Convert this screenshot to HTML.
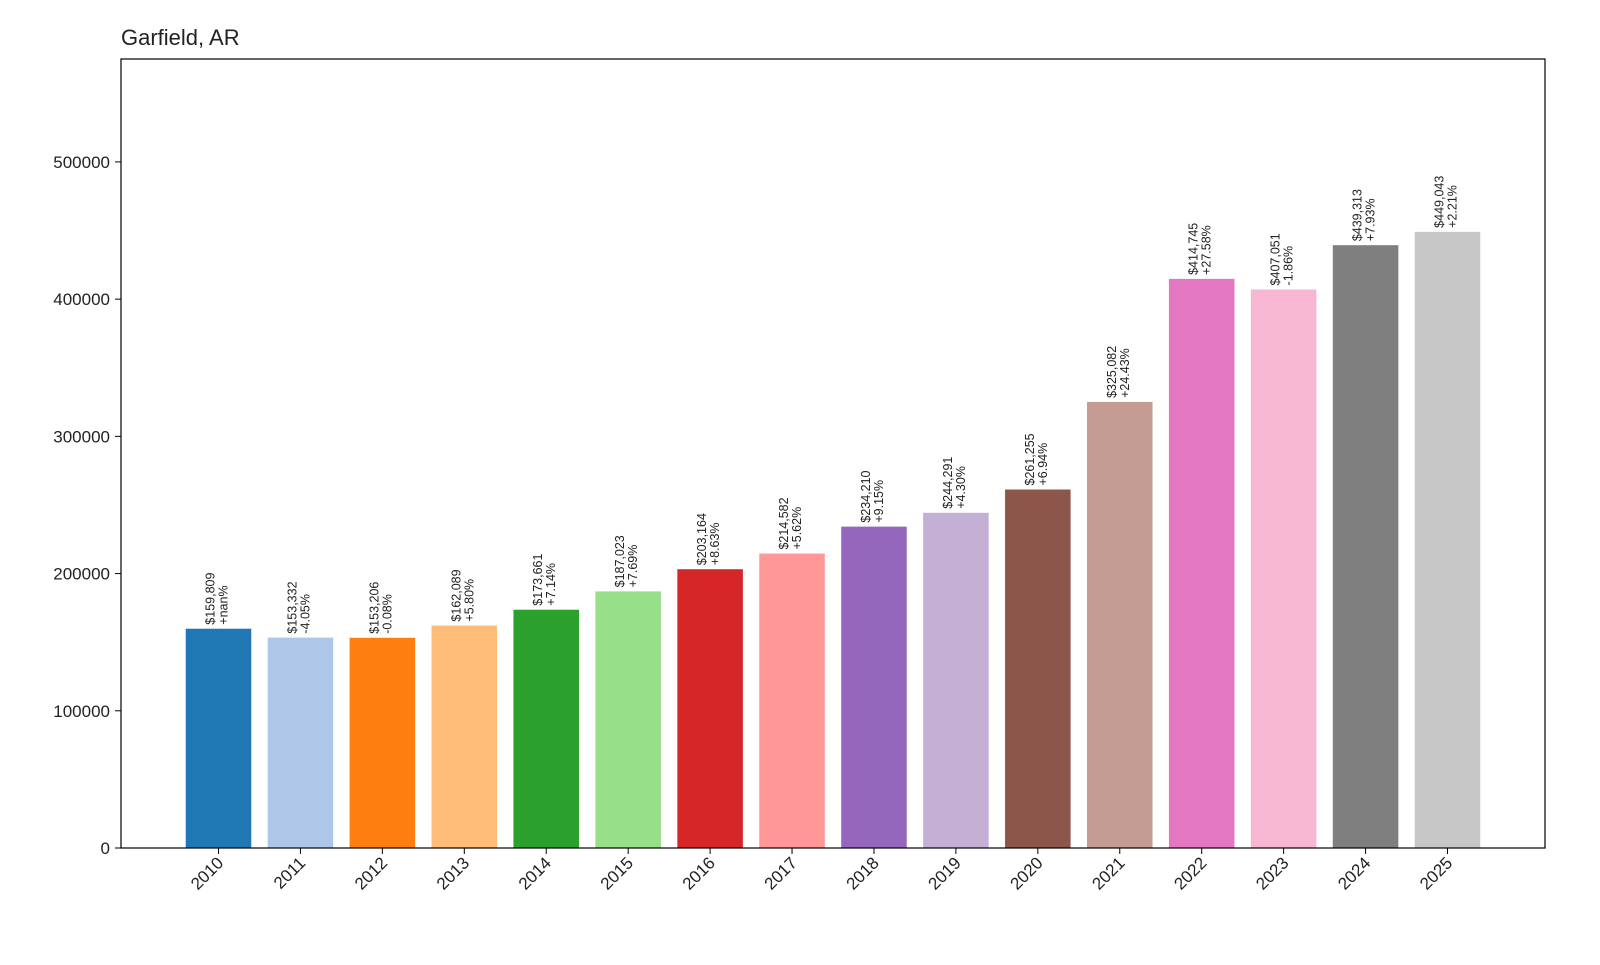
<!DOCTYPE html>
<html><head><meta charset="utf-8"><style>
body{margin:0;background:#fff;font-family:"Liberation Sans","DejaVu Sans",sans-serif;}
</style></head><body>
<svg id="chart" width="1600" height="960" xmlns="http://www.w3.org/2000/svg" font-family="Liberation Sans, DejaVu Sans, sans-serif">
<text x="121" y="45" font-size="22" fill="#222">Garfield, AR</text>
<g id="bars"></g>
<g id="yaxis"></g>
<g id="xaxis"></g>
<rect x="121" y="59" width="1424" height="789" fill="none" stroke="#000" stroke-width="1.2"/>
</svg>
<script>
const years=["2010","2011","2012","2013","2014","2015","2016","2017","2018","2019","2020","2021","2022","2023","2024","2025"];
const values=[159809,153332,153206,162089,173661,187023,203164,214582,234210,244291,261255,325082,414745,407051,439313,449043];
const changes=["+nan%","-4.05%","-0.08%","+5.80%","+7.14%","+7.69%","+8.63%","+5.62%","+9.15%","+4.30%","+6.94%","+24.43%","+27.58%","-1.86%","+7.93%","+2.21%"];
const yTicks=[0,100000,200000,300000,400000,500000];
const colors=["#1f77b4","#aec7e8","#ff7f0e","#ffbb78","#2ca02c","#98df8a","#d62728","#ff9896","#9467bd","#c5b0d5","#8c564b","#c49c94","#e377c2","#f7b6d2","#7f7f7f","#c7c7c7"];
const NS="http://www.w3.org/2000/svg";
const L=121,R=1545,T=59,B=848,yMax=575000;
const xMin=-1.19,xMax=16.19;
const x=i=>L+(i-xMin)/(xMax-xMin)*(R-L);
const y=v=>B-v/yMax*(B-T);
const bw=0.8*(R-L)/(xMax-xMin);
function mk(tag,attrs,parent){const e=document.createElementNS(NS,tag);for(const k in attrs)e.setAttribute(k,attrs[k]);parent.appendChild(e);return e;}
const gb=document.getElementById('bars'),gy=document.getElementById('yaxis'),gx=document.getElementById('xaxis');
values.forEach((v,i)=>{
  const r=mk('rect',{x:x(i)-bw/2,y:y(v),width:bw,height:B-y(v),fill:colors[i]},gb);
  
  
  const cx=x(i),top=y(v)-4;
  const t=mk('text',{transform:`translate(${cx},${top}) rotate(-90)`,'font-size':12.5,fill:'#222'},gb);
  
  
  const a=mk('tspan',{x:0,y:-4},t);a.textContent='$'+v.toLocaleString('en-US');
  const b=mk('tspan',{x:0,y:9},t);b.textContent=changes[i];
  mk('line',{x1:cx,x2:cx,y1:B,y2:B+6,stroke:'#000'},gx);
  const tl=mk('text',{transform:`translate(${cx+6},${B+16}) rotate(-45)`,'text-anchor':'end','font-size':17,fill:'#222'},gx);
  
  
  tl.textContent=years[i];
});
yTicks.forEach(v=>{
  mk('line',{x1:L-6,x2:L,y1:y(v),y2:y(v),stroke:'#000'},gy);
  const t=mk('text',{x:L-11,y:y(v)+6,'text-anchor':'end','font-size':17,fill:'#222'},gy);
  
  
  t.textContent=v;
});
</script>
</body></html>
